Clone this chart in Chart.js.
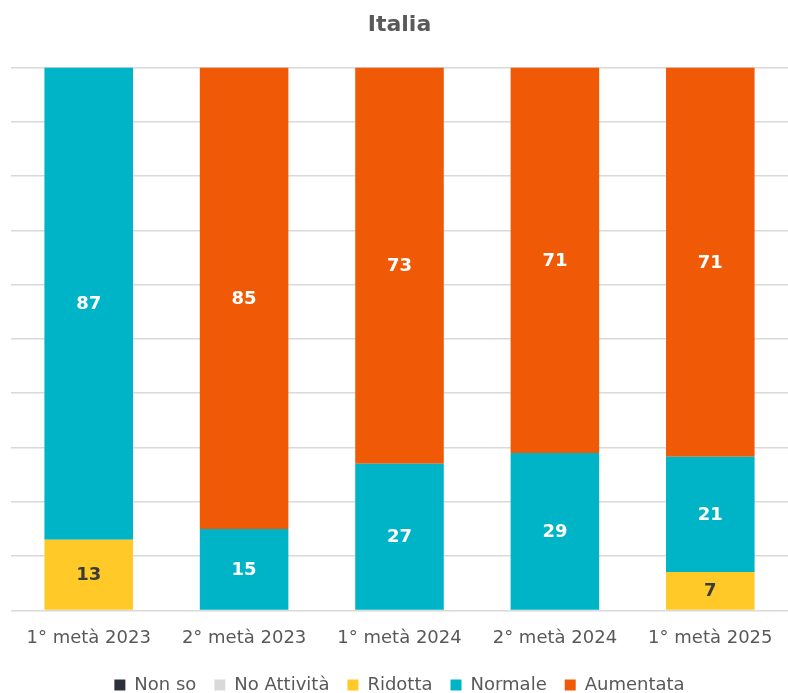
<!DOCTYPE html>
<html>
<head>
<meta charset="utf-8">
<script src="https://cdn.jsdelivr.net/npm/chart.js@4.4.0/dist/chart.umd.min.js"></script>
<style>
  html,body{margin:0;padding:0;background:#fff;}
  #wrap{width:788px;height:693px;}
</style>
</head>
<body>
<div id="wrap"><canvas id="chart" width="788" height="693"></canvas></div>
<script>
const categories = ['1° metà 2023','2° metà 2023','1° metà 2024','2° metà 2024','1° metà 2025'];
const nonSo      = [0, 0, 0, 0, 0];
const noAttivita = [0, 0, 0, 0, 0];
const ridotta    = [13, 0, 0, 0, 7];
const normale    = [87, 15, 27, 29, 21];
const aumentata  = [0, 85, 73, 71, 71];

// 100% stacked, like the original: each column is scaled to its own total
const series = [
  {label:'Non so', raw:nonSo, color:'#2b303b', text:'#fff'},
  {label:'No Attività', raw:noAttivita, color:'#d9d9d9', text:'#333'},
  {label:'Ridotta', raw:ridotta, color:'#ffca28', text:'#3a3a3a'},
  {label:'Normale', raw:normale, color:'#00b4c8', text:'#fff'},
  {label:'Aumentata', raw:aumentata, color:'#f05a06', text:'#fff'}
];
const totals = categories.map((c,i)=>series.reduce((s,d)=>s+d.raw[i],0));

const FONT = "DejaVu Sans, Verdana, sans-serif";

// --- value labels inside segments ---
const segLabels = {
  id:'segLabels',
  afterDatasetsDraw(chart){
    const ctx = chart.ctx;
    ctx.save();
    ctx.font = 'bold 18px ' + FONT;
    ctx.textAlign = 'center';
    ctx.textBaseline = 'middle';
    chart.data.datasets.forEach((ds,di)=>{
      const meta = chart.getDatasetMeta(di);
      meta.data.forEach((el,i)=>{
        const v = ds.raw[i];
        if(!v) return;
        ctx.fillStyle = ds.textColor;
        ctx.fillText(String(v), el.x, (el.y + el.base)/2 + 1);
      });
    });
    ctx.restore();
  }
};

new Chart(document.getElementById('chart'), {
  type:'bar',
  data:{
    labels:categories,
    datasets:series.map(s=>({
      label:s.label,
      raw:s.raw,
      textColor:s.text,
      data:s.raw.map((v,i)=>v/totals[i]*100),
      backgroundColor:s.color,
      borderWidth:0,
      categoryPercentage:1,
      barPercentage:0.57
    }))
  },
  options:{
    responsive:false,
    animation:false,
    layout:{padding:{left:11,right:0,top:0,bottom:-11}},
    plugins:{
      title:{display:true,text:'Italia',color:'#595959',font:{family:FONT,size:22,weight:'bold'},padding:{top:12,bottom:29}},
      legend:{
        position:'bottom',
        labels:{color:'#595959',font:{family:FONT,size:18},boxWidth:11,boxHeight:11,padding:18}
      },
      tooltip:{enabled:false}
    },
    scales:{
      x:{
        stacked:true,
        grid:{display:false},
        border:{display:false},
        ticks:{color:'#595959',font:{family:FONT,size:18},padding:9,maxRotation:0}
      },
      y:{
        stacked:true,
        min:0,max:100,
        ticks:{display:false,stepSize:10},
        border:{display:false},
        grid:{color:'#d9d9d9',lineWidth:1.5,drawTicks:false}
      }
    }
  },
  plugins:[segLabels]
});
</script>
</body>
</html>
